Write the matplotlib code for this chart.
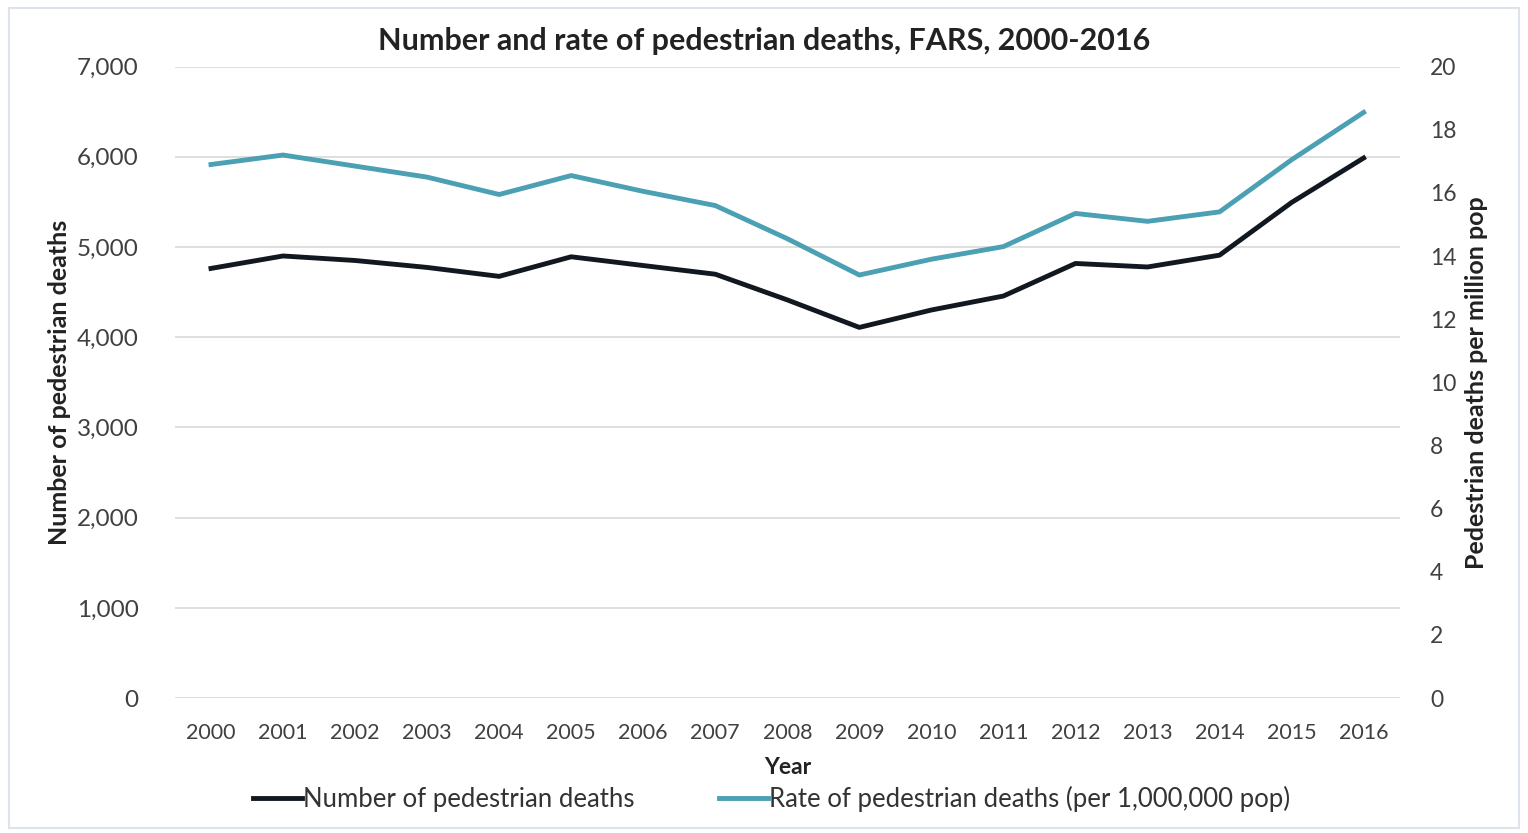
import matplotlib.pyplot as plt
from matplotlib.patches import Rectangle

years = list(range(2000, 2017))
deaths = [4763, 4901, 4851, 4774, 4675, 4892, 4795, 4699, 4414, 4109,
          4302, 4457, 4818, 4779, 4910, 5494, 5987]
rate = [16.9, 17.2, 16.85, 16.5, 15.95, 16.55, 16.05, 15.6, 14.55, 13.4,
        13.9, 14.3, 15.35, 15.1, 15.4, 17.05, 18.55]

plt.rcParams['font.family'] = ['Lato', 'DejaVu Sans']
black = '#111820'
teal = '#4ba0b3'
tick_col = '#404040'

fig = plt.figure(figsize=(15.28, 8.33), dpi=100)
ax = fig.add_axes([0.1145, 0.162, 0.8015, 0.758])
ax2 = ax.twinx()

l1, = ax.plot(years, deaths, color=black, lw=3.5, label='Number of pedestrian deaths')
l2, = ax2.plot(years, rate, color=teal, lw=3.5, label='Rate of pedestrian deaths (per 1,000,000 pop)')

ax.set_ylim(0, 7000)
ax2.set_ylim(0, 20)
ax.set_xlim(1999.5, 2016.5)
ax.set_yticks(range(0, 7001, 1000))
ax.set_yticklabels([f'{v:,}' for v in range(0, 7001, 1000)])
ax2.set_yticks(range(0, 21, 2))
ax.set_xticks(years)

ax.grid(axis='y', color='#d9d9d9', lw=1.2)
ax.set_axisbelow(True)
for a in (ax, ax2):
    for s in a.spines.values():
        s.set_visible(False)
    a.tick_params(length=0, labelsize=15.5, colors=tick_col)
ax.tick_params(axis='y', pad=26, labelsize=17.5)
ax.tick_params(axis='x', pad=18)
ax2.tick_params(axis='y', pad=22, labelsize=16.5)

ax.set_xlabel('Year', fontsize=16.5, fontweight='bold', color='#222222', labelpad=10)
ax.set_ylabel('Number of pedestrian deaths', fontsize=18, fontweight='bold', color='#222222', labelpad=4)
ax2.set_ylabel('Pedestrian deaths per million pop', fontsize=18, fontweight='bold', color='#222222', labelpad=6)
fig.suptitle('Number and rate of pedestrian deaths, FARS, 2000-2016', fontsize=22,
             fontweight='bold', color='#222222', y=0.968)

fig.legend(handles=[l1, l2], loc='lower center', bbox_to_anchor=(0.505, -0.003), ncol=2,
           frameon=False, fontsize=18.5, handlelength=1.9, handletextpad=0.05, columnspacing=3.3,
           labelcolor='#333333')

fig.patches.append(Rectangle((0.006, 0.006), 0.988, 0.984, transform=fig.transFigure,
                             fill=False, edgecolor='#dde3ea', lw=1.5))

fig.savefig('out.png', dpi=100)
